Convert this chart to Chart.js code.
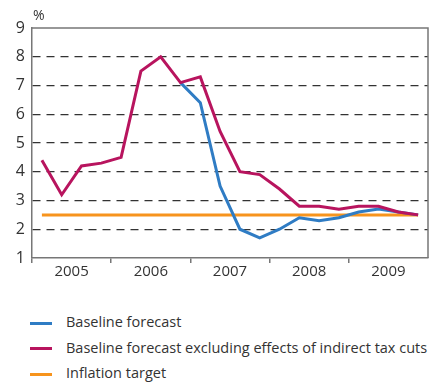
<!DOCTYPE html>
<html lang="en">
<head>
<meta charset="UTF-8">
<title>Inflation forecast</title>
<script src="https://cdn.jsdelivr.net/npm/chart.js@4"></script>
<style>
  body { margin: 0; background: #fff; font-family: "Open Sans", sans-serif; color: #333; }
  #wrap { position: relative; width: 433px; height: 382px; }
  #legend { position: absolute; left: 30px; top: 310px; margin: 0; padding: 0; list-style: none; }
  #legend li { height: 25.5px; line-height: 23px; font-size: 14.5px; white-space: nowrap; }
  #legend span { display: inline-block; width: 22px; height: 3px; margin-right: 14px; vertical-align: middle; }
</style>
</head>
<body>
<div id="wrap">
  <canvas id="chart" width="433" height="295"></canvas>
  <ul id="legend"></ul>
</div>
<script>
  const years = ["2005", "2006", "2007", "2008", "2009"]
  const yTicks = [1, 2, 3, 4, 5, 6, 7, 8, 9]

  // quarterly values, 2005 Q1 .. 2009 Q4
  const baseline = [null, null, null, null, null, null, null, 7.1,
    6.4, 3.5, 2.0, 1.7, 2.0, 2.4, 2.3, 2.4, 2.6, 2.7, 2.6, 2.5]
  const excludingTax = [4.4, 3.2, 4.2, 4.3, 4.5, 7.5, 8.0, 7.1,
    7.3, 5.4, 4.0, 3.9, 3.4, 2.8, 2.8, 2.7, 2.8, 2.8, 2.6, 2.5]
  const target = [2.5, 2.5, 2.5, 2.5, 2.5, 2.5, 2.5, 2.5, 2.5, 2.5,
    2.5, 2.5, 2.5, 2.5, 2.5, 2.5, 2.5, 2.5, 2.5, 2.5]

  const seriesNames = [
    "Baseline forecast",
    "Baseline forecast excluding effects of indirect tax cuts",
    "Inflation target",
  ]
  const colors = ["#2f7cc4", "#b8145e", "#f7941d"]

  const toPoints = (arr) => arr.map((v, i) => ({ x: i + 0.5, y: v }))

  // frame round the plot and the % label
  const framePlugin = {
    id: "frame",
    afterDraw(chart) {
      const { ctx, chartArea: a } = chart
      ctx.save()
      ctx.strokeStyle = "#777"
      ctx.lineWidth = 1.5
      ctx.beginPath()
      ctx.moveTo(a.left, a.top)
      ctx.lineTo(a.right, a.top)
      ctx.lineTo(a.right, a.bottom)
      ctx.stroke()
      ctx.fillStyle = "#333"
      ctx.font = "14px 'Open Sans'"
      ctx.textBaseline = "alphabetic"
      ctx.fillText("%", a.left + 1, a.top - 8)
      ctx.restore()
    },
  }

  const ctx = document.getElementById("chart").getContext("2d")
  new Chart(ctx, {
    type: "line",
    data: {
      datasets: [
        { label: seriesNames[0], data: toPoints(baseline), borderColor: colors[0], order: 1 },
        { label: seriesNames[1], data: toPoints(excludingTax), borderColor: colors[1], order: 0 },
        { label: seriesNames[2], data: toPoints(target), borderColor: colors[2], order: 2 },
      ],
    },
    options: {
      responsive: false,
      animation: false,
      layout: { padding: { top: 28, right: 5, left: 0, bottom: 0 } },
      elements: {
        line: { borderWidth: 3, tension: 0, fill: false },
        point: { radius: 0 },
      },
      plugins: { legend: { display: false }, tooltip: { enabled: false } },
      scales: {
        x: {
          type: "linear",
          min: 0,
          max: 20,
          afterBuildTicks(scale) {
            scale.ticks = []
            for (let v = 0; v <= 20; v += 2) scale.ticks.push({ value: v })
          },
          afterFit(scale) { scale.height = 37 },
          ticks: {
            autoSkip: false,
            maxRotation: 0,
            color: "#333",
            font: { family: "Open Sans", size: 15 },
            padding: 0,
            callback: (v) => (v % 4 === 2 ? years[(v - 2) / 4] : ""),
          },
          grid: {
            drawOnChartArea: false,
            tickLength: 5,
            lineWidth: 1.5,
            color: (c) => (c.tick && c.tick.value % 4 === 0 && c.tick.value < 20 ? "#777" : "rgba(0,0,0,0)"),
          },
          border: { color: "#777", width: 1.5 },
        },
        y: {
          min: 1,
          max: 9,
          afterBuildTicks(scale) { scale.ticks = yTicks.map((v) => ({ value: v })) },
          afterFit(scale) { scale.width = 32 },
          ticks: {
            color: "#333",
            font: { family: "Open Sans", size: 16 },
            padding: 7,
          },
          grid: {
            tickLength: 0,
            lineWidth: 1.3,
            color: (c) => (c.tick && (c.tick.value === 1 || c.tick.value === 9) ? "rgba(0,0,0,0)" : "#333"),
          },
          border: { color: "#777", width: 1.5, dash: [8, 6] },
        },
      },
    },
    plugins: [framePlugin],
  })

  const legend = document.getElementById("legend")
  seriesNames.forEach((name, i) => {
    const li = document.createElement("li")
    const sw = document.createElement("span")
    sw.style.background = colors[i]
    li.appendChild(sw)
    li.appendChild(document.createTextNode(name))
    legend.appendChild(li)
  })
</script>
</body>
</html>
